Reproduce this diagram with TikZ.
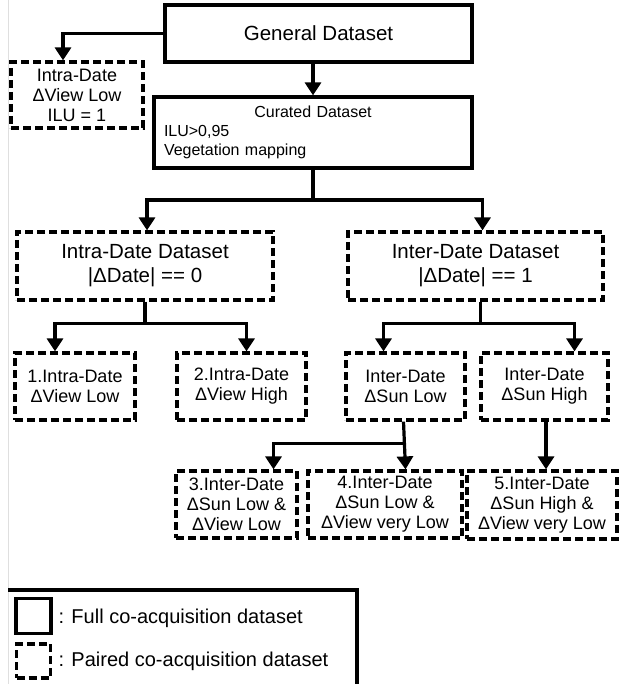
\documentclass[tikz,border=0pt]{standalone}
\usepackage{fontspec}
\setmainfont{Liberation Sans}
\usepackage{tikz}
\usetikzlibrary{arrows.meta}

\begin{document}
\begin{tikzpicture}[x=1pt, y=-1pt,
  full/.style={draw, line width=3.2pt, align=center, inner sep=0pt},
  paired/.style={draw, line width=3.2pt, dash pattern=on 8pt off 4pt, align=center, inner sep=0pt},
  big/.style={font=\fontsize{20.5}{24}\selectfont},
  small/.style={font=\fontsize{18}{20}\selectfont},
  link/.style={line width=3.2pt},
  arr/.style={line width=3.2pt, -{Triangle[length=13pt,width=16pt]}}]
\useasboundingbox (0,0) rectangle (618,684);
\draw[gray!25, line width=1pt] (8,0) -- (8,684);

% top
\node[full, big, minimum width=307pt, minimum height=57pt] at (318.5,33.5) (general) {General Dataset};
\node[paired, small, minimum width=132pt, minimum height=66pt] at (77,95) (ilu) {Intra-Date\\ΔView Low\\ILU = 1};
\node[full, align=left, text width=298pt, minimum width=318pt, minimum height=71pt, font=\fontsize{16}{19}\selectfont] at (313,132.5) (curated) {\makebox[\linewidth]{Curated Dataset}\\ILU>0,95\\Vegetation mapping};

% date split
\node[paired, big, minimum width=256pt, minimum height=68pt] at (145,266) (intra) {Intra-Date Dataset\\|ΔDate| == 0};
\node[paired, big, minimum width=255pt, minimum height=68pt] at (475.5,266) (inter) {Inter-Date Dataset\\|ΔDate| == 1};

% third row
\node[paired, small, minimum width=120pt, minimum height=67pt] at (75,386.5) (view1) {1.Intra-Date\\ΔView Low};
\node[paired, small, minimum width=129pt, minimum height=67pt] at (241.5,386.5) (view2) {2.Intra-Date\\ΔView High};
\node[paired, small, minimum width=119pt, minimum height=67pt] at (405.5,386.5) (sunlow) {Inter-Date\\ΔSun Low};
\node[paired, small, minimum width=127pt, minimum height=67pt] at (544.5,386.5) (sunhigh) {Inter-Date\\ΔSun High};

% fourth row
\node[paired, small, minimum width=121pt, minimum height=67pt] at (236.5,504.5) (sun3) {3.Inter-Date\\ΔSun Low \&\\ΔView Low};
\node[paired, small, minimum width=154pt, minimum height=67pt] at (385,504.5) (sun4) {4.Inter-Date\\ΔSun Low \&\\ΔView very Low};
\node[paired, small, minimum width=150pt, minimum height=68pt] at (542,505) (sun5) {5.Inter-Date\\ΔSun High \&\\ΔView very Low};

% connectors
\draw[arr] (general.west) -| ([xshift=-14pt]ilu.north);
\draw[arr] (curated.north |- general.south) -- (curated.north);
\coordinate (split0) at (313,200);
\draw[link] (curated.south) -- (split0);
\draw[arr] (split0) -| ([xshift=2pt]intra.north);
\draw[arr] (split0) -| ([xshift=7pt]inter.north);

\coordinate (split1) at ([yshift=-22pt]intra.south);
\draw[link] (intra.south) -- (split1);
\draw[arr] (split1) -| ([xshift=-20pt]view1.north);
\draw[arr] (split1) -| ([xshift=5pt]view2.north);

\coordinate (split2) at ([xshift=5pt,yshift=-22pt]inter.south);
\draw[link] ([xshift=5pt]inter.south) -- (split2);
\draw[arr] (split2) -| ([xshift=-22pt]sunlow.north);
\draw[arr] (split2) -| ([xshift=30pt]sunhigh.north);

\coordinate (split3) at ([xshift=-2pt,yshift=-22pt]sunlow.south);
\draw[arr] ([xshift=-2pt]sunlow.south) -- (sunlow.south |- sun4.north);
\draw[arr] (split3) -| ([xshift=37pt]sun3.north);
\draw[arr] ([xshift=1.5pt]sunhigh.south) -- ([xshift=4pt]sun5.north);

% legend
\draw[line width=3.2pt] (8,590) -- (357,590) -- (357,700);
\node[full, minimum size=35pt] at (33.5,616) (keyfull) {};
\node[paired, minimum size=34pt] at (33.5,661) (keypaired) {};
\node[anchor=west, font=\fontsize{20}{24}\selectfont] at (55,618) (keyfulltext) {: Full co-acquisition dataset};
\node[anchor=west, font=\fontsize{20}{24}\selectfont] at (55,661) (keypairedtext) {: Paired co-acquisition dataset};
\end{tikzpicture}
\end{document}
